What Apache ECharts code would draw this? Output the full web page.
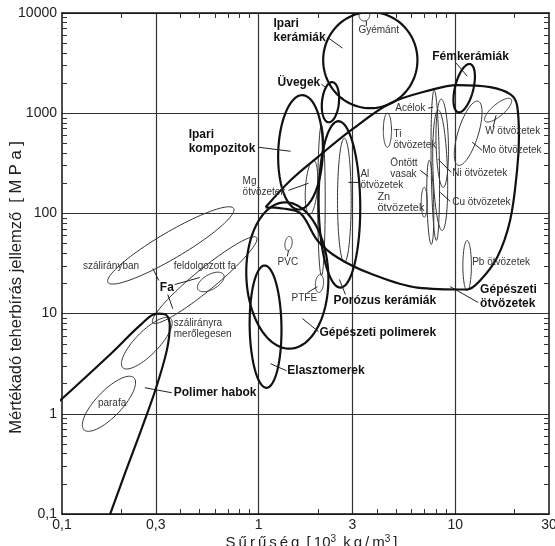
<!DOCTYPE html>
<html><head><meta charset="utf-8">
<script src="https://cdn.jsdelivr.net/npm/echarts@6/dist/echarts.min.js"></script>
<style>html,body{margin:0;padding:0;background:#fff}#c{width:555px;height:546px}</style>
</head><body><div id="c"></div>
<script>
// ---- axis values ----
const xLabelValues = [0.1, 0.3, 1, 3, 10, 30];
const xGridValues = [0.3, 1, 3, 10];
const xMinorValues = [0.2, 0.4, 0.5, 0.6, 0.7, 0.8, 0.9, 2, 4, 5, 6, 7, 8, 9, 20];
const yLabelValues = [0.1, 1, 10, 100, 1000, 10000];
const yMinorValues = [];
[0.1, 1, 10, 100, 1000].forEach(d => { for (let k = 2; k <= 9; k++) yMinorValues.push(+(k * d).toPrecision(3)); });

// ---- material bubbles: [name, centre density, centre strength, axis-end density, axis-end strength, width ratio] ----
const heavyBubbles = [
  ['Ipari kerámiák', 3.70, 3388, 3.70, 10233, 0.98],
  ['Üvegek', 2.32, 1288, 2.375, 2042, 0.42],
  ['Fémkerámiák', 11.11, 1778, 11.92, 3090, 0.37],
  ['Ipari kompozitok', 1.634, 407, 1.673, 1514, 0.39],
  ['Porózus kerámiák', 2.577, 123, 2.547, 832, 0.25],
  ['Gépészeti polimerek', 1.40, 24.0, 1.355, 129, 0.56],
  ['Elasztomerek', 1.085, 7.41, 1.073, 30.2, 0.26]
];
const lightBubbles = [
  ['Gyémánt', 3.45, 9550, 3.45, 10965, 0.9],
  ['Mg ötvözetek', 1.858, 182, 1.902, 339, 0.22],
  ['Al ötvözetek', 2.73, 135, 2.73, 562, 0.11],
  ['Kerámia', 2.088, 135, 2.088, 759, 0.05],
  ['Ti ötvözetek', 4.52, 676, 4.52, 1000, 0.24],
  ['Acélok', 7.92, 302, 7.82, 1698, 0.055],
  ['Ni ötvözetek', 8.59, 501, 8.49, 1380, 0.14],
  ['Cu ötvözetek', 8.39, 269, 8.20, 1072, 0.12],
  ['Öntött vasak', 7.47, 129, 7.38, 339, 0.08],
  ['Zn ötvözetek', 6.96, 129, 6.96, 182, 0.2],
  ['Mo ötvözetek', 11.64, 631, 13.09, 1318, 0.3],
  ['W ötvözetek', 16.53, 1072, 19.25, 1380, 0.35],
  ['Pb ötvözetek', 11.5, 30.2, 11.5, 53.7, 0.17],
  ['PVC', 1.42, 50.1, 1.437, 58.9, 0.5],
  ['PTFE', 2.04, 19.95, 2.06, 24.5, 0.45],
  ['Fa szálirányban', 0.3576, 47.9, 0.7465, 112, 0.18],
  ['Feldolgozott fa', 0.532, 21.6, 0.977, 57.5, 0.16],
  ['Feldolgozott fa 2', 0.571, 20.7, 0.664, 24.5, 0.5],
  ['Fa szálirányra merőlegesen', 0.27, 5.07, 0.3576, 8.91, 0.34],
  ['Parafa', 0.1733, 1.259, 0.232, 2.29, 0.36]
];

// ---- envelopes: [density, strength] ----
const envelopeAlloys = [[1.085,115],[1.454,214],[1.993,363],[3.0,692],[4.68,1259],[7.47,1698],[10.24,1905],[15.06,1820],[19.02,1549],[20.64,1202],[21.1,575],[20.64,269],[19.02,85.1],[16.34,36.3],[13.39,21.4],[11.5,17.4],[6.41,18.2],[3.70,25.1],[2.518,36.3],[1.993,53.7],[1.634,100],[1.324,112],[1.085,115]];
const envelopeFoams = [[0.0932,1.245],[0.1773,3.98],[0.2518,7.76],[0.3035,10],[0.3372,9.77],[0.3534,7.59],[0.341,4.27],[0.30,1.778],[0.2518,0.676],[0.2113,0.269],[0.1692,0.0813]];

// ---- leader lines: [density1, strength1, density2, strength2] ----
const leaders = [
  [2.266,5623,2.67,4467],[3.533,8318,3.533,7413],[10.12,3162,11.5,2344],[1.0,457,1.454,417],
  [1.42,170,1.794,200],[2.863,204,3.22,204],[7.29,1122,7.73,1148],[16.15,955,15.59,724],
  [12.2,513,13.71,427],[8.20,347,9.54,257],[8.39,162,9.43,132],[6.64,269,7.29,234],
  [9.43,18.6,13.09,12.9],[2.577,21.9,2.765,15.5],[1.773,16.2,1.993,18.6],[1.42,42.7,1.40,37.2],
  [1.673,8.91,2.017,6.61],[1.15,3.16,1.387,2.69],[0.2638,1.82,0.3618,1.622],[0.2897,28.2,0.3108,21.4],
  [0.3747,19.5,0.5017,22.9],[0.3452,15.5,0.366,11.2],[2.088,1950,2.214,1778]
];

// ---- labels: [text, density, strength] ----
const boldLabels = [
  ['Ipari\nkerámiák', 1.191, 6607], ['Fémkerámiák', 7.64, 3631], ['Üvegek', 1.249, 1995],
  ['Ipari\nkompozitok', 0.441, 519], ['Porózus kerámiák', 2.403, 13.49], ['Gépészeti\nötvözetek', 13.39, 14.79],
  ['Gépészeti polimerek', 2.04, 6.457], ['Elasztomerek', 1.40, 2.69], ['Polimer habok', 0.3703, 1.622], ['Fa', 0.3145, 18.2]
];
const smallLabels = [
  ['Gyémánt', 3.22, 6761], ['Acélok', 4.96, 1122], ['Ti\nötvözetek', 4.85, 543], ['W ötvözetek', 14.2, 661],
  ['Mo ötvözetek', 13.71, 427], ['Öntött\nvasak', 4.68, 282], ['Ni ötvözetek', 9.66, 251], ['Al\nötvözetek', 3.295, 219],
  ['Cu ötvözetek', 9.66, 129], ['Mg\nötvözetek', 0.829, 186], ['PVC', 1.249, 32.4],
  ['PTFE', 1.471, 14.1], ['Pb ötvözetek', 12.2, 32.4], ['szálirányban', 0.1278, 29.5], ['feldolgozott fa', 0.3703, 29.5],
  ['szálirányra\nmerőlegesen', 0.3703, 7.08], ['parafa', 0.1523, 1.288]
];
const mediumLabels = [['Zn\nötvözetek', 4.02, 129]];

const FONT = "'Liberation Sans', Arial, sans-serif";
const fmt = v => String(v).replace('.', ',');

function bubbleSeries(rows, width, color) {
  return {
    type: 'custom', coordinateSystem: 'cartesian2d', clip: true, silent: true,
    data: rows.map(r => ({ name: r[0], value: r.slice(1) })),
    encode: { x: [0, 2], y: [1, 3] },
    renderItem(params, api) {
      const c = api.coord([api.value(0), api.value(1)]);
      const e = api.coord([api.value(2), api.value(3)]);
      const k = api.value(4);
      const ax = e[0] - c[0], ay = e[1] - c[1];
      const bx = -ay * k, by = ax * k;
      const pts = [];
      for (let i = 0; i < 96; i++) {
        const t = i / 96 * Math.PI * 2;
        pts.push([c[0] + ax * Math.cos(t) + bx * Math.sin(t), c[1] + ay * Math.cos(t) + by * Math.sin(t)]);
      }
      return { type: 'polygon', shape: { points: pts }, style: { fill: 'none', stroke: color, lineWidth: width } };
    }
  };
}
function labelSeries(rows, size, weight, color, lh) {
  return {
    type: 'custom', coordinateSystem: 'cartesian2d', clip: false, silent: true, z: 10,
    data: rows.map(r => [r[1], r[2]]),
    renderItem(params, api) {
      const p = api.coord([api.value(0), api.value(1)]);
      return { type: 'text', x: p[0], y: p[1], style: {
        text: rows[params.dataIndex][0], fontSize: size, fontWeight: weight, fontFamily: FONT,
        fill: color, align: 'left', verticalAlign: 'middle', lineHeight: lh } };
    }
  };
}
const lineSeries = (data, w) => ({
  type: 'line', data, smooth: 0.35, symbol: 'none', clip: true, silent: true,
  lineStyle: { color: '#111', width: w }
});

const frameLine = { show: true, onZero: false, lineStyle: { color: '#111', width: 1.5 } };
const minorTick = (vals) => ({ show: true, inside: true, length: 5, customValues: vals, lineStyle: { color: '#333', width: 1 } });

const option = {
  animation: false,
  grid: { left: 62, right: 6, top: 13, bottom: 32, containLabel: false, outerBoundsMode: 'none' },
  xAxis: [
    { type: 'log', min: 0.1, max: 30, position: 'bottom', axisLine: frameLine,
      axisTick: { show: false, customValues: xGridValues },
      axisLabel: { customValues: xLabelValues, formatter: fmt, fontSize: 14, color: '#222', fontFamily: FONT, margin: 4 },
      splitLine: { show: true, lineStyle: { color: '#333', width: 1.2 } },
      name: 'S\u2009ű\u2009r\u2009ű\u2009s\u2009é\u2009g\u2009 [\u200910{s|3}\u2009 k\u2009g\u2009/\u2009m{s|3}\u2009]',
      nameLocation: 'middle', nameGap: 20, nameMoveOverlap: false,
      nameTextStyle: { fontSize: 15, color: '#222', fontFamily: FONT, padding: [0, 0, 0, 12],
        rich: { s: { fontSize: 10, fontFamily: FONT, color: '#222', padding: [0, 0, 7, 0] } } } },
    { type: 'log', min: 0.1, max: 30, position: 'bottom', axisLine: { show: false, onZero: false },
      axisTick: minorTick(xMinorValues), axisLabel: { show: false }, splitLine: { show: false } },
    { type: 'log', min: 0.1, max: 30, position: 'top', axisLine: frameLine,
      axisTick: minorTick(xMinorValues), axisLabel: { show: false }, splitLine: { show: false } }
  ],
  yAxis: [
    { type: 'log', min: 0.1, max: 10000, position: 'left', axisLine: frameLine,
      axisTick: { show: false },
      axisLabel: { customValues: yLabelValues, formatter: fmt, fontSize: 14, color: '#222', fontFamily: FONT, margin: 5 },
      splitLine: { show: true, lineStyle: { color: '#333', width: 1.2 } },
      name: 'Mértékadó teherbírás jellemző  [ M P a ]', nameLocation: 'middle', nameGap: 37, nameMoveOverlap: false,
      nameTextStyle: { fontSize: 16.5, color: '#222', fontFamily: FONT, padding: [0, 48, 0, 0] } },
    { type: 'log', min: 0.1, max: 10000, position: 'left', axisLine: { show: false, onZero: false },
      axisTick: minorTick(yMinorValues), axisLabel: { show: false }, splitLine: { show: false } },
    { type: 'log', min: 0.1, max: 10000, position: 'right', axisLine: frameLine,
      axisTick: minorTick(yMinorValues), axisLabel: { show: false }, splitLine: { show: false } }
  ],
  series: [
    bubbleSeries(lightBubbles, 1, '#333'),
    bubbleSeries(heavyBubbles, 2.2, '#111'),
    lineSeries(envelopeAlloys, 2.2),
    lineSeries(envelopeFoams, 2.2),
    {
      type: 'custom', coordinateSystem: 'cartesian2d', clip: true, silent: true,
      data: leaders, encode: { x: [0, 2], y: [1, 3] },
      renderItem(params, api) {
        const a = api.coord([api.value(0), api.value(1)]);
        const b = api.coord([api.value(2), api.value(3)]);
        return { type: 'line', shape: { x1: a[0], y1: a[1], x2: b[0], y2: b[1] }, style: { stroke: '#222', lineWidth: 1 } };
      }
    },
    labelSeries(boldLabels, 12, 'bold', '#111', 14),
    labelSeries(smallLabels, 10, 'normal', '#333', 11),
    labelSeries(mediumLabels, 11, 'normal', '#333', 11)
  ]
};
const chart = echarts.init(document.getElementById('c'), null, { renderer: 'canvas' });
chart.setOption(option);
</script></body></html>
